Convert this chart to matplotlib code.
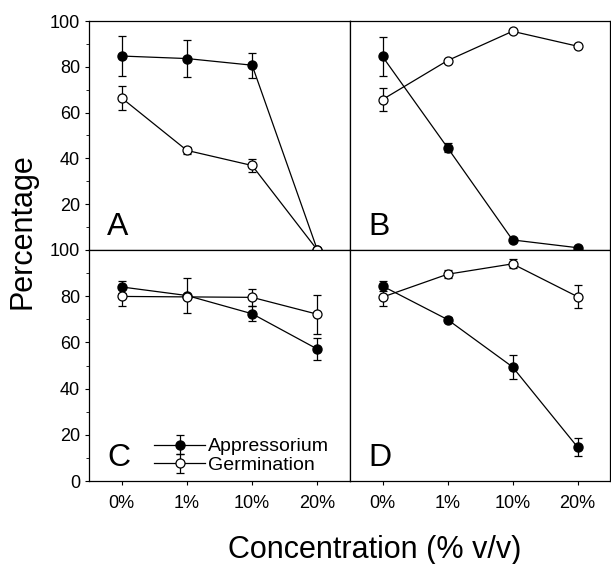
import numpy as np
import matplotlib
matplotlib.use('Agg')
import matplotlib.pyplot as plt
from matplotlib.ticker import MultipleLocator

plt.rcParams.update({
    'font.family': ['Liberation Sans', 'DejaVu Sans'],
    'font.size': 10,
})

concs = ['0%', '1%', '10%', '20%']
panels = ['A', 'B', 'C', 'D']

# appressorium means / sd per panel
appr = {
    'A': [84.7, 83.6, 80.7, 0.0],
    'B': [84.5, 44.7, 4.4, 1.0],
    'C': [84.0, 80.3, 72.4, 57.1],
    'D': [84.4, 69.9, 49.4, 14.7],
}
appr_err = {
    'A': [8.7, 8.2, 5.5, 0.0],
    'B': [8.7, 2.0, 0.0, 0.0],
    'C': [2.4, 7.5, 3.3, 4.6],
    'D': [2.3, 1.0, 5.3, 3.9],
}
germ = {
    'A': [66.4, 43.5, 36.9, 0.0],
    'B': [65.7, 82.7, 95.5, 89.0],
    'C': [79.9, 79.7, 79.5, 72.2],
    'D': [79.6, 89.5, 94.0, 79.8],
}
germ_err = {
    'A': [5.3, 1.5, 3.0, 0.0],
    'B': [5.2, 0.0, 0.0, 0.0],
    'C': [4.0, 0.0, 3.6, 8.5],
    'D': [4.0, 1.8, 2.0, 5.0],
}

fig = plt.figure(figsize=(6.11, 5.64), dpi=100)
W, H = 611, 564
x0, xm, x1 = 89, 350, 610
y0, ym, y1 = 21, 250, 481
boxes = {
    'A': [x0 / W, 1 - ym / H, (xm - x0) / W, (ym - y0) / H],
    'B': [xm / W, 1 - ym / H, (x1 - xm) / W, (ym - y0) / H],
    'C': [x0 / W, 1 - y1 / H, (xm - x0) / W, (y1 - ym) / H],
    'D': [xm / W, 1 - y1 / H, (x1 - xm) / W, (y1 - ym) / H],
}

x = np.arange(len(concs))
for p in panels:
    ax = fig.add_axes(boxes[p])
    ax.errorbar(x, appr[p], yerr=appr_err[p], color='black', marker='o',
                ms=6.5, mfc='black', mec='black', lw=0.9, elinewidth=0.9,
                capsize=3, capthick=0.9, label='Appressorium', zorder=3)
    ax.errorbar(x, germ[p], yerr=germ_err[p], color='black', marker='o',
                ms=6.5, mfc='white', mec='black', mew=0.9, lw=0.9, elinewidth=0.9,
                capsize=3, capthick=0.9, label='Germination', zorder=4)
    ax.set_xlim(-0.5, 3.5)
    ax.set_ylim(0, 100)
    for s in ax.spines.values():
        s.set_linewidth(0.9)
    ax.yaxis.set_major_locator(MultipleLocator(20))
    ax.yaxis.set_minor_locator(MultipleLocator(10))
    ax.tick_params(direction='out', length=3, width=0.8, labelsize=13)
    ax.tick_params(which='minor', direction='out', length=2, width=0.6)
    if p == 'A':
        ax.set_yticks([20, 40, 60, 80, 100])
    elif p == 'C':
        ax.set_yticks([0, 20, 40, 60, 80, 100])
    else:
        ax.tick_params(axis='y', which='both', left=False, labelleft=False)
    if p in ('C', 'D'):
        ax.set_xticks(x)
        ax.set_xticklabels(concs)
        ax.tick_params(axis='x', pad=7)
    else:
        ax.set_xticks([])
    ax.text(0.07, 0.035, p, transform=ax.transAxes, fontsize=23, va='bottom', ha='left')
    if p == 'C':
        ax.legend(loc='lower left', bbox_to_anchor=(0.25, 0.03), frameon=False,
                  fontsize=14, handlelength=2.6, handletextpad=0.15,
                  labelspacing=0.05, borderpad=0, borderaxespad=0)

fig.text(23 / W, 1 - 231 / H, 'Percentage', rotation=90, fontsize=22,
         va='center', ha='center')
fig.text(375 / W, 1 - 550 / H, 'Concentration (% v/v)', fontsize=22,
         va='center', ha='center')

fig.savefig('out.png', dpi=100, facecolor='white')
plt.close(fig)
